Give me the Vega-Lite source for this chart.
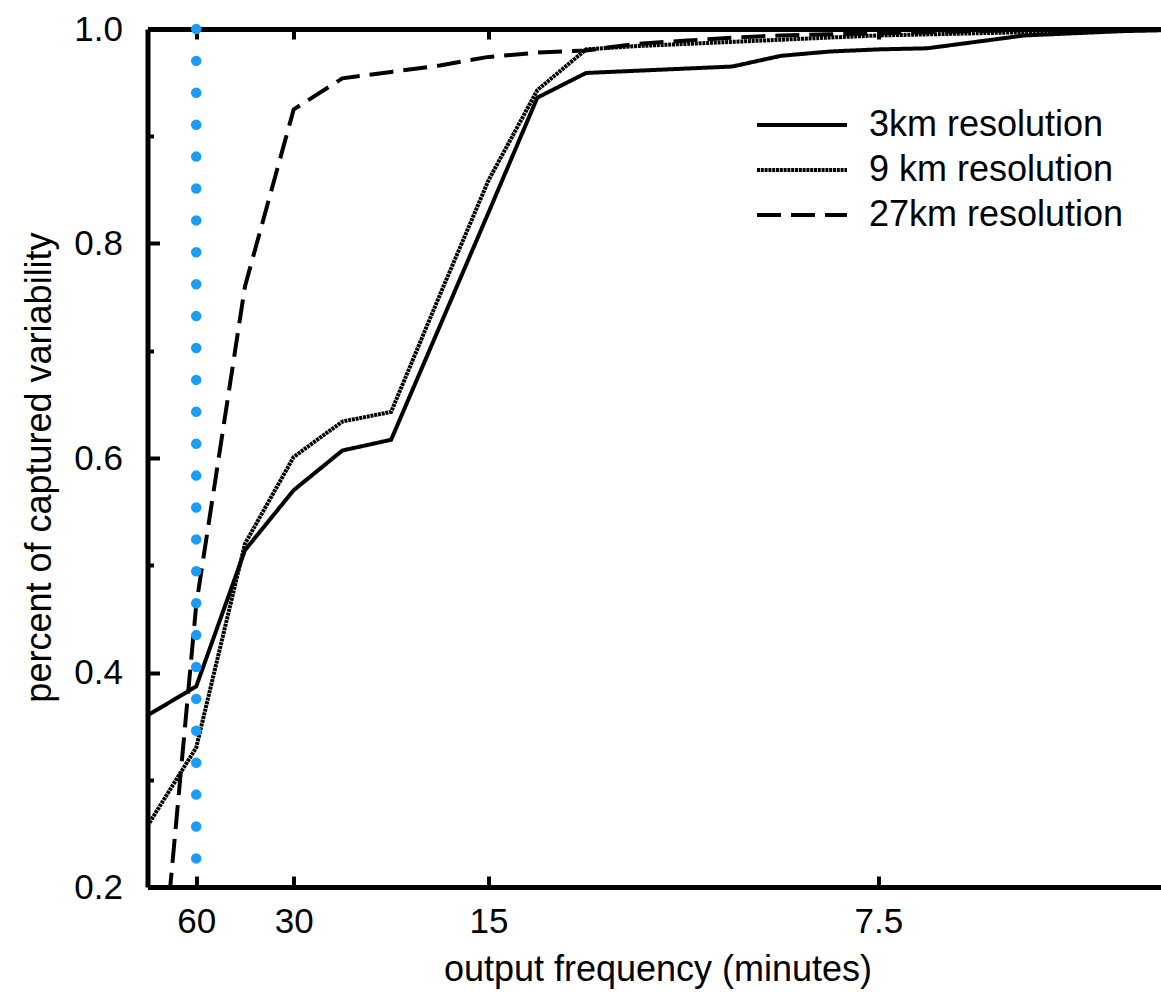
{
  "$schema": "https://vega.github.io/schema/vega-lite/v6.json",
  "autosize": {"type": "none"},
  "width": 1013.5,
  "height": 858,
  "padding": {"left": 147.5, "top": 29, "right": 0, "bottom": 106},
  "background": "white",
  "config": {
    "font": "Liberation Sans",
    "view": {"stroke": null},
    "axis": {"grid": false, "domainColor": "black", "domainWidth": 5, "tickColor": "black", "tickWidth": 4, "labelColor": "black", "titleColor": "black", "labelFont": "Liberation Sans", "titleFont": "Liberation Sans", "labelFontSize": 35, "titleFontSize": 36, "titleFontWeight": "normal", "labelFlush": false, "labelOverlap": false}
  },
  "layer": [
    {
      "data": {"values": [
        {"u": 0.5, "val": 0.360, "series": "3km resolution"},
        {"u": 1, "val": 0.387, "series": "3km resolution"},
        {"u": 1.5, "val": 0.514, "series": "3km resolution"},
        {"u": 2, "val": 0.570, "series": "3km resolution"},
        {"u": 2.5, "val": 0.607, "series": "3km resolution"},
        {"u": 3, "val": 0.617, "series": "3km resolution"},
        {"u": 3.5, "val": 0.723, "series": "3km resolution"},
        {"u": 4, "val": 0.829, "series": "3km resolution"},
        {"u": 4.5, "val": 0.936, "series": "3km resolution"},
        {"u": 5, "val": 0.959, "series": "3km resolution"},
        {"u": 5.5, "val": 0.961, "series": "3km resolution"},
        {"u": 6, "val": 0.963, "series": "3km resolution"},
        {"u": 6.5, "val": 0.965, "series": "3km resolution"},
        {"u": 7, "val": 0.975, "series": "3km resolution"},
        {"u": 7.5, "val": 0.979, "series": "3km resolution"},
        {"u": 8, "val": 0.981, "series": "3km resolution"},
        {"u": 8.5, "val": 0.982, "series": "3km resolution"},
        {"u": 9, "val": 0.988, "series": "3km resolution"},
        {"u": 9.5, "val": 0.994, "series": "3km resolution"},
        {"u": 10, "val": 0.996, "series": "3km resolution"},
        {"u": 10.5, "val": 0.998, "series": "3km resolution"},
        {"u": 11, "val": 0.999, "series": "3km resolution"},
        {"u": 0.5, "val": 0.257, "series": "9 km resolution"},
        {"u": 1, "val": 0.330, "series": "9 km resolution"},
        {"u": 1.5, "val": 0.520, "series": "9 km resolution"},
        {"u": 2, "val": 0.601, "series": "9 km resolution"},
        {"u": 2.5, "val": 0.634, "series": "9 km resolution"},
        {"u": 3, "val": 0.643, "series": "9 km resolution"},
        {"u": 3.5, "val": 0.752, "series": "9 km resolution"},
        {"u": 4, "val": 0.859, "series": "9 km resolution"},
        {"u": 4.5, "val": 0.943, "series": "9 km resolution"},
        {"u": 5, "val": 0.981, "series": "9 km resolution"},
        {"u": 5.5, "val": 0.984, "series": "9 km resolution"},
        {"u": 6, "val": 0.986, "series": "9 km resolution"},
        {"u": 6.5, "val": 0.988, "series": "9 km resolution"},
        {"u": 7, "val": 0.990, "series": "9 km resolution"},
        {"u": 7.5, "val": 0.992, "series": "9 km resolution"},
        {"u": 8, "val": 0.994, "series": "9 km resolution"},
        {"u": 8.5, "val": 0.995, "series": "9 km resolution"},
        {"u": 9, "val": 0.996, "series": "9 km resolution"},
        {"u": 9.5, "val": 0.997, "series": "9 km resolution"},
        {"u": 10, "val": 0.998, "series": "9 km resolution"},
        {"u": 10.5, "val": 0.999, "series": "9 km resolution"},
        {"u": 11, "val": 1.0, "series": "9 km resolution"},
        {"u": 0.5, "val": -0.03, "series": "27km resolution"},
        {"u": 1, "val": 0.463, "series": "27km resolution"},
        {"u": 1.5, "val": 0.760, "series": "27km resolution"},
        {"u": 2, "val": 0.925, "series": "27km resolution"},
        {"u": 2.5, "val": 0.954, "series": "27km resolution"},
        {"u": 3, "val": 0.960, "series": "27km resolution"},
        {"u": 3.5, "val": 0.966, "series": "27km resolution"},
        {"u": 4, "val": 0.974, "series": "27km resolution"},
        {"u": 4.5, "val": 0.978, "series": "27km resolution"},
        {"u": 5, "val": 0.980, "series": "27km resolution"},
        {"u": 5.5, "val": 0.986, "series": "27km resolution"},
        {"u": 6, "val": 0.989, "series": "27km resolution"},
        {"u": 6.5, "val": 0.992, "series": "27km resolution"},
        {"u": 7, "val": 0.994, "series": "27km resolution"},
        {"u": 7.5, "val": 0.995, "series": "27km resolution"},
        {"u": 8, "val": 0.996, "series": "27km resolution"},
        {"u": 8.5, "val": 0.997, "series": "27km resolution"},
        {"u": 9, "val": 0.998, "series": "27km resolution"},
        {"u": 9.5, "val": 0.999, "series": "27km resolution"},
        {"u": 10, "val": 0.999, "series": "27km resolution"},
        {"u": 10.5, "val": 1.0, "series": "27km resolution"},
        {"u": 11, "val": 1.0, "series": "27km resolution"}
      ]},
      "mark": {"type": "line", "clip": true, "color": "black", "strokeWidth": 4},
      "encoding": {
        "x": {"field": "u", "type": "quantitative", "scale": {"domain": [0.5, 10.9], "nice": false, "zero": false},
          "axis": {"orient": "bottom", "values": [1, 2, 4, 8], "labelExpr": "format(60 / datum.value, '~g')", "tickSize": -11, "labelPadding": 28.5, "title": "output frequency (minutes)", "titleX": 510, "titleY": 93, "titleBaseline": "alphabetic", "titleAlign": "center", "titleAnchor": null}},
        "y": {"field": "val", "type": "quantitative", "scale": {"domain": [0.2, 1.0], "nice": false, "zero": false},
          "axis": {"orient": "left", "values": [0.2, 0.4, 0.6, 0.8, 1.0], "format": ".1f", "tickSize": -12, "labelPadding": 37, "title": "percent of captured variability", "titleAngle": 270, "titleX": -97.5, "titleY": 438, "titleBaseline": "alphabetic", "titleAlign": "center", "titleAnchor": null}},
        "strokeDash": {"field": "series", "type": "nominal",
          "scale": {"domain": ["3km resolution", "9 km resolution", "27km resolution"], "range": [[1, 0], [3, 0.8], [24, 10]]},
          "legend": {"orient": "none", "legendX": 607.5, "legendY": 73.5, "title": null, "symbolType": "stroke", "symbolSize": 8100, "symbolStrokeWidth": 4, "symbolStrokeColor": "black", "clipHeight": 45, "rowPadding": 0, "labelFontSize": 36, "labelFont": "Liberation Sans", "labelOffset": 20, "labelColor": "black", "padding": 0, "labelLimit": 400}}
      }
    },
    {
      "data": {"values": [{"u": 1, "top": 1.0, "bottom": 0.22}]},
      "mark": {"type": "rule", "color": "#1a9cf5", "strokeWidth": 10.5, "strokeCap": "round", "strokeDash": [0, 31.9]},
      "encoding": {
        "x": {"field": "u", "type": "quantitative", "scale": {"domain": [0.5, 10.9], "nice": false, "zero": false},
          "axis": {"orient": "top", "values": [1, 2, 4, 8], "labels": false, "tickSize": -10, "title": null}},
        "y": {"field": "top", "type": "quantitative", "scale": {"domain": [0.2, 1.0], "nice": false, "zero": false},
          "axis": {"orient": "left", "values": [0.3, 0.5, 0.7, 0.9], "labels": false, "domain": false, "tickSize": -6, "title": null}},
        "y2": {"field": "bottom"}
      }
    }
  ],
  "resolve": {"axis": {"x": "independent", "y": "independent"}}
}
